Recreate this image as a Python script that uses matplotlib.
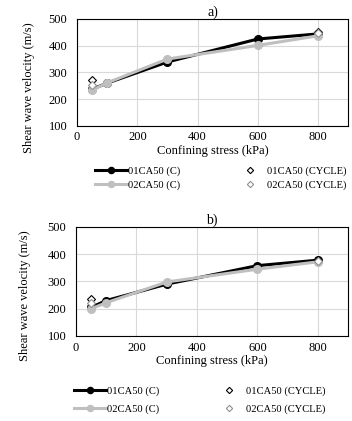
import matplotlib.pyplot as plt

plt.rcParams['font.family'] = ['Liberation Serif', 'DejaVu Serif']

stress = [50, 100, 300, 600, 800]
cycle_stress = [50, 800]

# a)
a_01c = [237, 260, 339, 425, 444]
a_02c = [234, 261, 350, 401, 437]
a_01cycle = [270, 452]
a_02cycle = [252, 447]

# b)
b_01c = [205, 230, 290, 358, 378]
b_02c = [200, 222, 298, 345, 372]
b_01cycle = [236, 378]
b_02cycle = [220, 376]

black = "black"
gray = "#bfbfbf"

fig = plt.figure(figsize=(3.52, 4.21), dpi=100)
ax1 = fig.add_axes([0.219, 0.701, 0.770, 0.254])
ax2 = fig.add_axes([0.216, 0.202, 0.773, 0.259])

panels = [(ax1, "a)", a_01c, a_02c, a_01cycle, a_02cycle, (-0.155, 0.355)),
          (ax2, "b)", b_01c, b_02c, b_01cycle, b_02cycle, (-0.165, 0.367))]

for ax, title, c1, c2, cy1, cy2, ylab_xy in panels:
    ax.plot(stress, c1, color=black, lw=2.2, marker="o", ms=5.5,
            label="01CA50 (C)", zorder=3)
    ax.plot(stress, c2, color=gray, lw=2.2, marker="o", ms=5.5,
            label="02CA50 (C)", zorder=3)
    ax.plot(cycle_stress, cy1, ls="none", marker="D", ms=4, mfc="white",
            mec="black", mew=0.8, label="01CA50 (CYCLE)", zorder=4)
    ax.plot(cycle_stress, cy2, ls="none", marker="D", ms=4, mfc="white",
            mec="#909090", mew=0.8, label="02CA50 (CYCLE)", zorder=4)
    ax.set_xlim(0, 900)
    ax.set_ylim(100, 500)
    ax.set_xticks([0, 200, 400, 600, 800])
    ax.set_yticks([100, 200, 300, 400, 500])
    ax.grid(True, color="#d9d9d9", lw=0.8)
    ax.set_axisbelow(True)
    ax.tick_params(length=0, labelsize=9)
    ax.tick_params(axis="x", pad=4)
    ax.tick_params(axis="y", pad=7)
    for s in ax.spines.values():
        s.set_color("black")
        s.set_linewidth(0.8)
    ax.set_title(title, fontsize=10, pad=2)
    ax.set_xlabel("Confining stress (kPa)", fontsize=9, labelpad=1)
    ax.set_ylabel("Shear wave velocity (m/s)", fontsize=9)
    ax.yaxis.set_label_coords(*ylab_xy)

leg_kw = dict(loc="upper left", ncol=2, frameon=False, fontsize=7.6,
              handlelength=3.0, handletextpad=0.1, columnspacing=5.15,
              borderpad=0, borderaxespad=0, markerscale=0.8)
h, l = ax1.get_legend_handles_labels()
fig.legend(h, l, bbox_to_anchor=(0.27, 0.606), labelspacing=0.45, **leg_kw)
h, l = ax2.get_legend_handles_labels()
fig.legend(h, l, bbox_to_anchor=(0.21, 0.083), labelspacing=0.8, **leg_kw)

fig.savefig("out.png", dpi=100)
